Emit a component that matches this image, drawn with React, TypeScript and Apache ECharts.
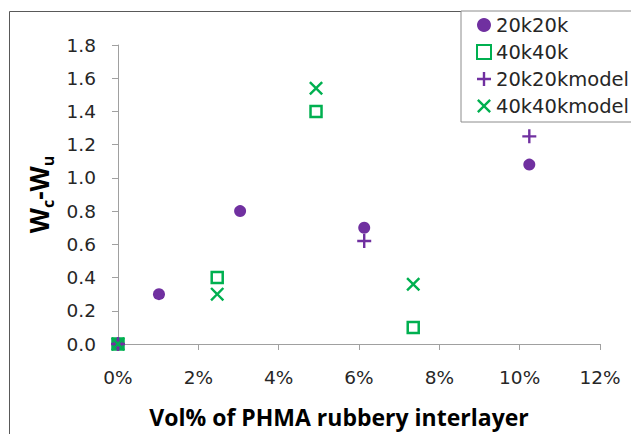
import React, { useEffect, useRef } from "react";
import * as echarts from "echarts";

const x20k20k = [0, 1.02, 3.04, 6.13, 10.24];
const y20k20k = [0, 0.3, 0.8, 0.7, 1.08];
const x40k40k = [0, 2.47, 4.93, 7.35];
const y40k40k = [0, 0.4, 1.4, 0.1];
const x20k20kmodel = [0, 6.13, 10.24];
const y20k20kmodel = [0, 0.62, 1.25];
const x40k40kmodel = [0, 2.47, 4.93, 7.35];
const y40k40kmodel = [0, 0.3, 1.54, 0.36];
const seriesNames = ["20k20k", "40k40k", "20k20kmodel", "40k40kmodel"];

const PURPLE = "#7030A0";
const GREEN = "#00B050";
const PLUS = "path://M5.8,0H8.2V5.8H14V8.2H8.2V14H5.8V8.2H0V5.8H5.8Z";
const CROSS = "path://M0,1.7L1.7,0L7,5.3L12.3,0L14,1.7L8.7,7L14,12.3L12.3,14L7,8.7L1.7,14L0,12.3L5.3,7Z";

const zip = (xs: number[], ys: number[]) => xs.map((x, i) => [x, ys[i]]);

export default function App() {
  const ref = useRef<HTMLDivElement>(null);
  useEffect(() => {
    if (!ref.current) return;
    const chart = echarts.init(ref.current, null, { renderer: "svg" });
    const axisColor = "#a0a0a0";
    chart.setOption({
      animation: false,
      textStyle: { fontFamily: "DejaVu Sans" },
      graphic: [
        {
          type: "rect",
          silent: true,
          z: -1,
          shape: { x: 9.5, y: 11.5, width: 800, height: 600 },
          style: { fill: "none", stroke: "#595959", lineWidth: 1 },
        },
      ],
      grid: { left: 118, right: 31, top: 45, bottom: 90 },
      legend: {
        left: 461,
        top: 11,
        orient: "vertical",
        padding: [4, 20, 6, 15],
        itemGap: 7,
        itemWidth: 14,
        itemHeight: 14,
        backgroundColor: "#fff",
        borderColor: "#8c8c8c",
        borderWidth: 1,
        borderRadius: 0,
        textStyle: { fontSize: 19.5, color: "#262626", fontFamily: "DejaVu Sans", lineHeight: 20 },
        data: seriesNames,
      },
      xAxis: {
        type: "value",
        min: 0,
        max: 12,
        interval: 2,
        axisLine: { show: true, lineStyle: { color: axisColor } },
        axisTick: { show: true, length: 6, lineStyle: { color: axisColor } },
        splitLine: { show: false },
        axisLabel: { formatter: "{value}%", fontSize: 18.5, color: "#262626", margin: 24 },
        name: "Vol% of PHMA rubbery interlayer",
        nameLocation: "middle",
        nameGap: 61,
        nameTextStyle: {
          fontFamily: "Open Sans",
          fontWeight: "bold",
          fontSize: 23,
          color: "#000",
          padding: [0, 40, 0, 0],
        },
      },
      yAxis: {
        type: "value",
        min: 0,
        max: 1.8,
        interval: 0.2,
        axisLine: { show: true, lineStyle: { color: axisColor } },
        axisTick: { show: true, length: 6, lineStyle: { color: axisColor } },
        splitLine: { show: false },
        axisLabel: {
          formatter: (v: number) => v.toFixed(1),
          fontSize: 18.5,
          color: "#262626",
          margin: 22,
        },
        name: "{m|W}{s|c}{m|-W}{s|u}",
        nameLocation: "middle",
        nameRotate: 90,
        nameGap: 57,
        nameTextStyle: {
          rich: {
            m: {
              fontFamily: "Open Sans",
              fontWeight: "bold",
              fontSize: 26,
              color: "#000",
              lineHeight: 30,
              verticalAlign: "top",
            },
            s: {
              fontFamily: "Open Sans",
              fontWeight: "bold",
              fontSize: 16,
              color: "#000",
              lineHeight: 16,
              verticalAlign: "bottom",
            },
          },
        },
      },
      series: [
        {
          name: "20k20k",
          type: "scatter",
          symbol: "circle",
          symbolSize: 12,
          itemStyle: { color: PURPLE, opacity: 1 },
          data: zip(x20k20k, y20k20k),
        },
        {
          name: "40k40k",
          type: "scatter",
          symbol: "rect",
          symbolSize: 11,
          itemStyle: { color: "rgba(255,255,255,0)", borderColor: GREEN, borderWidth: 2.5, opacity: 1 },
          data: zip(x40k40k, y40k40k),
        },
        {
          name: "20k20kmodel",
          type: "scatter",
          symbol: PLUS,
          symbolSize: 14,
          itemStyle: { color: PURPLE, opacity: 1 },
          data: zip(x20k20kmodel, y20k20kmodel),
        },
        {
          name: "40k40kmodel",
          type: "scatter",
          symbol: CROSS,
          symbolSize: 14,
          itemStyle: { color: GREEN, opacity: 1 },
          data: zip(x40k40kmodel, y40k40kmodel),
        },
      ],
    });
    return () => chart.dispose();
  }, []);
  return <div ref={ref} style={{ width: 631, height: 434, position: "absolute", left: 0, top: 0 }} />;
}
